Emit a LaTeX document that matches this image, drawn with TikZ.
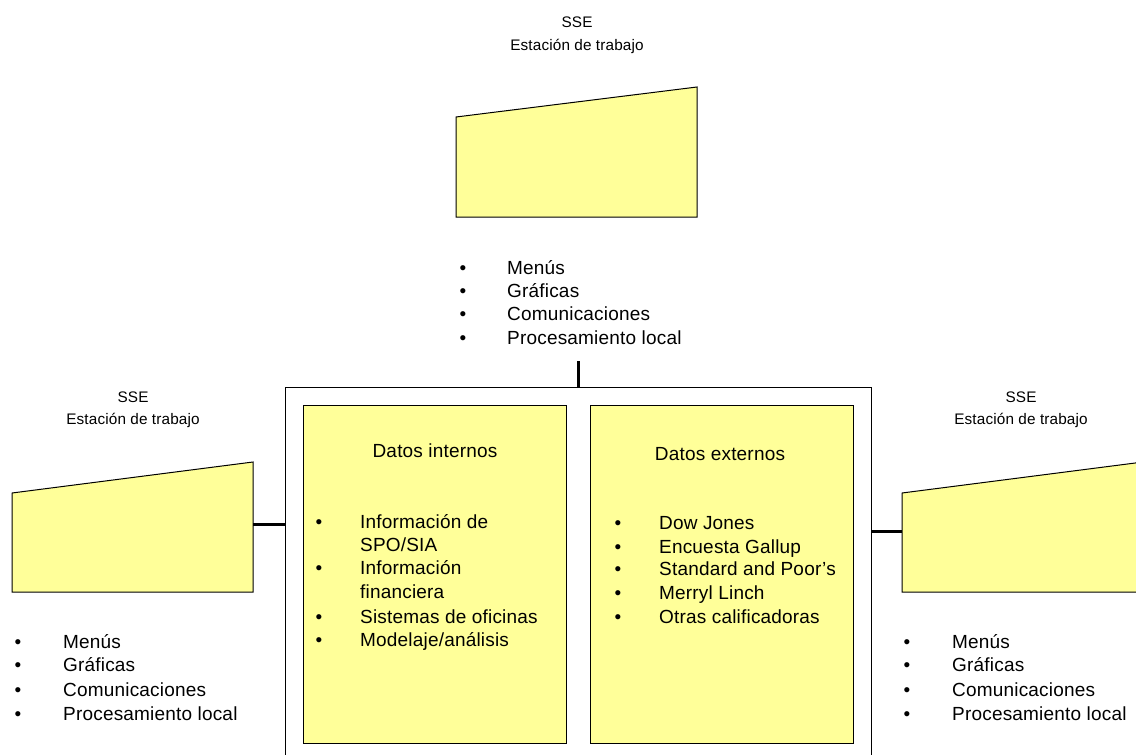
\documentclass[tikz,border=0pt]{standalone}
\usepackage{fontspec}
\setmainfont{Liberation Sans}[LetterSpace=1]
\definecolor{paleyellow}{RGB}{255,255,153}
\tikzset{
  wsbox/.style={draw=black, line width=1pt, fill=paleyellow, line join=miter},
  databox/.style={draw=black, line width=1.2pt, fill=paleyellow, inner sep=0pt, anchor=north west},
  framebox/.style={draw=black, line width=1pt, inner sep=0pt, anchor=north west},
  link/.style={draw=black, line width=3pt},
  txt/.style={inner sep=0pt, font=\fontsize{19}{22}\selectfont},
  lbl/.style={inner sep=0pt, font=\fontsize{15.3}{18}\selectfont},
}
\begin{document}
\begin{tikzpicture}[x=1pt,y=-1pt]
\useasboundingbox (0,0) rectangle (1136,755);
\clip (0,0) rectangle (1136,755);

% workstations
\draw[wsbox] (456,117) -- (697,87) -- (697,217) -- (456,217) -- cycle;
\draw[wsbox] (12,493) -- (253,462) -- (253,592) -- (12,592) -- cycle;
\draw[wsbox] (902,493) -- (1143,462) -- (1143,592) -- (902,592) -- cycle;

% central system
\node[framebox, minimum width=586pt, minimum height=390pt] (sys) at (285,387) {};
\node[databox, minimum width=263pt, minimum height=338pt] (din) at (303,405) {};
\node[databox, minimum width=263pt, minimum height=338pt] (dex) at (590,405) {};

% connectors
\coordinate (tick) at (578,361);
\coordinate (wsL) at (253,524);
\coordinate (wsR) at (902,531);
\draw[link] (tick) -- (tick |- sys.north);
\draw[link] (wsL) -- (sys.west |- wsL);
\draw[link] (sys.east |- wsR) -- (wsR);

% labels
\node[lbl, anchor=base] (lT1) at (577,27) {SSE};
\node[lbl, anchor=base] (lT2) at (577,50) {Estación de trabajo};
\node[lbl, anchor=base] (lL1) at (133,402) {SSE};
\node[lbl, anchor=base] (lL2) at (133,424) {Estación de trabajo};
\node[lbl, anchor=base] (lR1) at (1021,402) {SSE};
\node[lbl, anchor=base] (lR2) at (1021,424) {Estación de trabajo};

% top list
\foreach \t/\y [count=\i] in {Menús/274, Gráficas/297, Comunicaciones/320, Procesamiento local/344}{
  \node[txt, anchor=base] (tb\i) at (463,\y) {•};
  \node[txt, anchor=base west] (tt\i) at (507,\y) {\t};
}
% left list
\foreach \t/\y [count=\i] in {Menús/648, Gráficas/671, Comunicaciones/696, Procesamiento local/720}{
  \node[txt, anchor=base] (lb\i) at (18,\y) {•};
  \node[txt, anchor=base west] (lt\i) at (63,\y) {\t};
}
% right list
\foreach \t/\y [count=\i] in {Menús/648, Gráficas/671, Comunicaciones/696, Procesamiento local/720}{
  \node[txt, anchor=base] (rb\i) at (907,\y) {•};
  \node[txt, anchor=base west] (rt\i) at (952,\y) {\t};
}

% internal data
\node[txt, anchor=base] (dinH) at (435,457) {Datos internos};
\foreach \y [count=\i] in {528, 574, 623, 646}{
  \node[txt, anchor=base] (ib\i) at (319,\y) {•};
}
\node[txt, anchor=base west] (it1) at (360,528) {Información de};
\node[txt, anchor=base west] (it2) at (360,551) {SPO/SIA};
\node[txt, anchor=base west] (it3) at (360,574) {Información};
\node[txt, anchor=base west] (it4) at (360,598) {financiera};
\node[txt, anchor=base west] (it5) at (360,623) {Sistemas de oficinas};
\node[txt, anchor=base west] (it6) at (360,646) {Modelaje/análisis};

% external data
\node[txt, anchor=base] (dexH) at (720,460) {Datos externos};
\foreach \t/\y [count=\i] in {Dow Jones/529, Encuesta Gallup/553, Standard and Poor’s/575, Merryl Linch/599, Otras calificadoras/623}{
  \node[txt, anchor=base] (eb\i) at (618,\y) {•};
  \node[txt, anchor=base west] (et\i) at (659,\y) {\t};
}
\end{tikzpicture}
\end{document}
